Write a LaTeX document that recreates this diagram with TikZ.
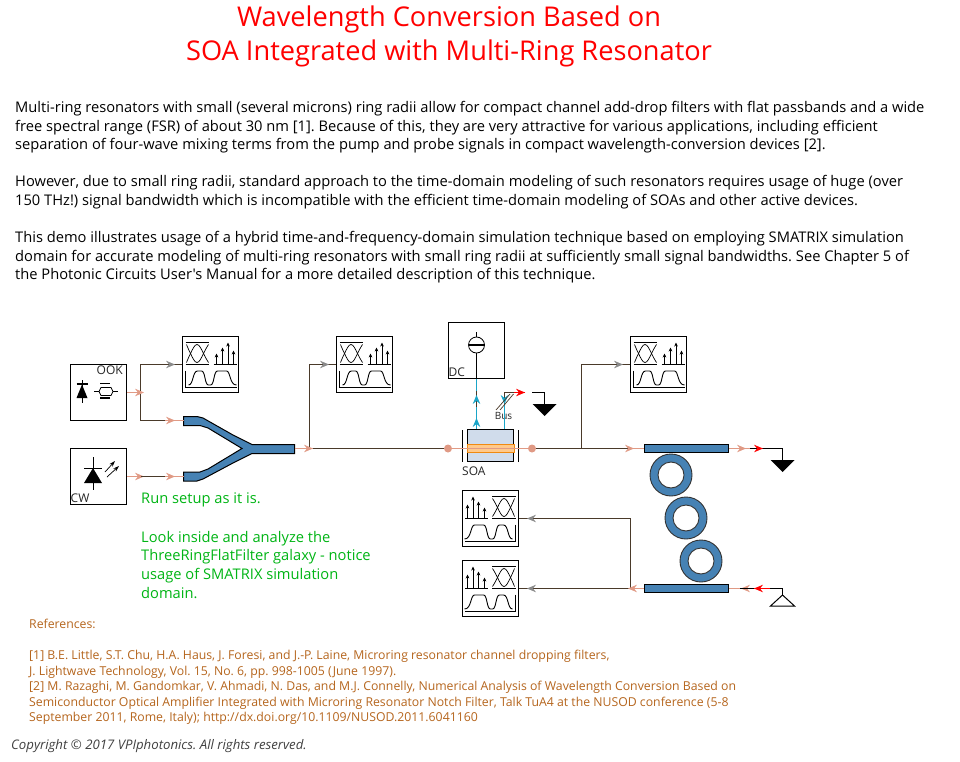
\documentclass[tikz,border=0pt]{standalone}
\usepackage{fontspec}
\setmainfont{Open Sans}[Ligatures=TeXOff]
\usepackage{xcolor}
\definecolor{leadred}{HTML}{FF0000}
\definecolor{salmon}{HTML}{E09A85}
\definecolor{wirebrown}{HTML}{4A3A2A}
\definecolor{tipgrey}{HTML}{8A8A8A}
\definecolor{elcyan}{HTML}{1AA5C8}
\definecolor{steel}{HTML}{4682B4}
\definecolor{soagrey}{HTML}{D0DCEB}
\definecolor{soaband}{HTML}{FFC98A}
\definecolor{soaedge}{HTML}{F08A10}
\definecolor{notegreen}{HTML}{00B414}
\definecolor{refbrown}{HTML}{B5651D}
\usetikzlibrary{arrows.meta}
\tikzset{
  pics/flowtip/.style={code={\fill[#1] (-9,-3.8) -- (0,0) -- (-9,3.8) -- (-6,0) -- cycle;}},
  pics/scopeicon/.style={code={
    % eye
    \draw[line width=0.9pt] (-25,-22) -- (-1.5,-22) (-25,0) -- (-1.5,0);
    \draw[line width=0.7pt] (-24,-20) .. controls (-22,-15) and (-21,-13) .. (-20,-11)
      .. controls (-18,-7) and (-16,-2) .. (-13.5,-2) .. controls (-11,-2) and (-9,-7) .. (-7,-11)
      .. controls (-6,-13) and (-4,-17) .. (-2,-20);
    \draw[line width=0.7pt] (-24,-2) .. controls (-22,-7) and (-21,-9) .. (-20,-11)
      .. controls (-18,-15) and (-16,-20) .. (-13.5,-20) .. controls (-11,-20) and (-9,-15) .. (-7,-11)
      .. controls (-6,-9) and (-4,-5) .. (-2,-2);
    % spectrum
    \draw[line width=0.9pt] (3,0) -- (26,0);
    \draw[line width=0.9pt, -{Stealth[length=4pt,width=3.6pt]}] (6,0) -- (6,-11);
    \draw[line width=0.9pt, -{Stealth[length=4pt,width=3.6pt]}] (12,0) -- (12,-17);
    \draw[line width=0.9pt, -{Stealth[length=4pt,width=3.6pt]}] (17.5,0) -- (17.5,-22);
    \draw[line width=0.9pt, -{Stealth[length=4pt,width=3.6pt]}] (23,0) -- (23,-14);
    % waveform
    \draw[line width=0.9pt] (-25,6) -- (-25,23) -- (26,23);
    \draw[line width=0.9pt] (-22,20.5) .. controls (-17,20.5) and (-18,6.5) .. (-13,6.5) -- (-9,6.5)
      .. controls (-5,6.5) and (-6,20.5) .. (-2,20.5) -- (0,20.5) .. controls (4,20.5) and (3,6.5) .. (7,6.5) -- (16,6.5)
      .. controls (20,6.5) and (19,20.5) .. (26,20.5);
  }},
  pics/groundfull/.style={code={\fill (-12,0) -- (12,0) -- (0,12) -- cycle;}}
}
\frenchspacing
\begin{document}
\begin{tikzpicture}[x=1pt, y=-1pt, line cap=butt,
  instbox/.style={draw, line width=1pt, fill=white, minimum size=56pt, inner sep=0pt},
  guide/.style={font=\fontsize{14.68}{18.6}\selectfont, align=left, anchor=north west, inner sep=0pt},
  tag/.style={font=\fontsize{12}{12}\selectfont, inner sep=0pt, text=black!85},
  bluebar/.style={draw, line width=1pt, fill=steel, minimum width=84pt, minimum height=8pt, inner sep=0pt},
  ringout/.style={circle, draw=black!80, line width=0.9pt, fill=steel, minimum size=42pt, inner sep=0pt},
  ringin/.style={circle, draw=black!80, line width=0.9pt, fill=white, minimum size=26pt, inner sep=0pt},
  lead/.style={draw=salmon, line width=1pt},
  wire/.style={draw=wirebrown, line width=1pt},
  elwire/.style={draw=elcyan, line width=1pt},
  blackwire/.style={draw=black, line width=1pt}]
\useasboundingbox (0,0) rectangle (960,762);

% title and notes
\node[font=\fontsize{27.2}{34}\selectfont, text=leadred, align=center, inner sep=0pt] (title) at (449,36)
  {Wavelength Conversion Based on\\SOA Integrated with Multi-Ring Resonator};
\node[guide] (para1) at (15,101) {Multi-ring resonators with small (several microns) ring radii allow for compact channel add-drop filters with flat passbands and a wide\\
free spectral range (FSR) of about 30 nm [1]. Because of this, they are very attractive for various applications, including efficient\\
separation of four-wave mixing terms from the pump and probe signals in compact wavelength-conversion devices [2].};
\node[guide] (para2) at (15,175) {However, due to small ring radii, standard approach to the time-domain modeling of such resonators requires usage of huge (over\\
150 THz!) signal bandwidth which is incompatible with the efficient time-domain modeling of SOAs and other active devices.};
\node[guide] (para3) at (15,231) {This demo illustrates usage of a hybrid time-and-frequency-domain simulation technique based on employing SMATRIX simulation\\
domain for accurate modeling of multi-ring resonators with small ring radii at sufficiently small signal bandwidths. See Chapter 5 of\\
the Photonic Circuits User's Manual for a more detailed description of this technique.};
\node[guide, text=notegreen] (note1) at (141,493) {Run setup as it is.};
\node[guide, text=notegreen] (note2) at (141,531) {Look inside and analyze the\\ThreeRingFlatFilter galaxy - notice\\usage of SMATRIX simulation\\domain.};
\node[guide, text=refbrown, font=\fontsize{12.27}{15.6}\selectfont] (refhead) at (29,619) {References:};
\node[guide, text=refbrown, font=\fontsize{12.27}{15.6}\selectfont] (reflist) at (29,650) {[1] B.E. Little, S.T. Chu, H.A. Haus, J. Foresi, and J.-P. Laine, Microring resonator channel dropping filters,\\
J. Lightwave Technology, Vol. 15, No. 6, pp. 998-1005 (June 1997).\\{}%
[2] M. Razaghi, M. Gandomkar, V. Ahmadi, N. Das, and M.J. Connelly, Numerical Analysis of Wavelength Conversion Based on\\
Semiconductor Optical Amplifier Integrated with Microring Resonator Notch Filter, Talk TuA4 at the NUSOD conference (5-8\\
September 2011, Rome, Italy); http://dx.doi.org/10.1109/NUSOD.2011.6041160};
\node[guide, text=black!75, font=\fontsize{13.2}{15}\selectfont\itshape] (copy) at (11,739) {Copyright © 2017 VPIphotonics. All rights reserved.};

% instruments
\node[instbox] (ook) at (98.5,392.5) {};
\node[instbox] (cw) at (98.5,476.5) {};
\node[instbox] (dc) at (476.5,350.5) {};
\node[instbox] (scope1) at (210.5,364.5) {};
\node[instbox] (scope2) at (364.5,364.5) {};
\node[instbox] (scope3) at (658.5,364.5) {};
\node[instbox] (scope4) at (490.5,518.5) {};
\node[instbox] (scope5) at (490.5,588.5) {};
\pic at (scope1) {scopeicon};
\pic at (scope2) {scopeicon};
\pic at (scope3) {scopeicon};
\pic[xscale=-1] at (scope4) {scopeicon};
\pic[xscale=-1] at (scope5) {scopeicon};
\node[tag, anchor=west] (ooktag) at (96.5,370.5) {OOK};
\node[tag, anchor=west] (cwtag) at (70.5,498.5) {CW};
\node[tag, anchor=west] (dctag) at (448.5,372) {DC};
\node[tag, anchor=west] (soatag) at (462,471) {SOA};
\node[tag, font=\fontsize{10}{11}\selectfont] (bustag) at (503.5,416) {Bus};

% ook source icon
\draw[line width=0.8pt] (82,380) -- (82,403);
\draw[line width=1.4pt] (76.5,384) -- (87.5,384);
\fill (76.5,398) -- (87.5,398) -- (82,384.5) -- cycle;
\draw[line width=0.7pt] (94,391.5) -- (99,391.5) (113,391.5) -- (118,391.5);
\draw[line width=0.7pt] (99,391.5) -- (101,387.5) -- (111,387.5) -- (113,391.5) -- (111,395.5) -- (101,395.5) -- cycle;
\draw[line width=1.5pt] (100,383.5) -- (110,383.5) (100,398) -- (110,398);
% cw source icon
\draw[line width=0.8pt] (93,457) -- (93,490);
\draw[line width=0.8pt] (84,468) -- (102,468);
\fill (84,483) -- (102,483) -- (93,468) -- cycle;
\draw[line width=0.7pt, -{Stealth[length=6pt,width=4pt]}] (105,472) -- (115,461);
\draw[line width=0.7pt, -{Stealth[length=6pt,width=4pt]}] (107,477) -- (119,466);
% dc source icon
\draw[line width=0.8pt] (476.5,332) -- (476.5,337) (476.5,353) -- (dc.south);
\draw[line width=0.8pt] (476.5,345) circle (8);
\draw[line width=1.6pt] (468.5,345) -- (484.5,345);

% coupler
\draw[line width=1pt, fill=steel] (183.5,416.5) -- (197,416.5) -- (203,418) -- (233,435) -- (252,444.5) -- (294.5,444.5)
  -- (294.5,453.5) -- (252,453.5) -- (233,463) -- (203,479) -- (197,481) -- (183.5,481) -- (183.5,472) -- (200,472)
  -- (208,469) -- (242,448.5) -- (208,428) -- (200,425.5) -- (183.5,425.5) -- cycle;
\coordinate (cplup) at (183.5,420.5);
\coordinate (cpllow) at (183.5,476.5);
\coordinate (cplout) at (294.5,448.5);

% soa
\node[draw, line width=1pt, fill=soagrey, minimum width=46pt, minimum height=32pt, inner sep=0pt] (soa) at (490.5,445.5) {};
\draw[draw=soaedge, line width=1pt, fill=soaband] (soa.west |- 0,444.5) rectangle (soa.east |- 0,452.5);
\draw[line width=1pt] (462.5,430) -- (462.5,462) (518.5,430) -- (518.5,462);
\node[circle, fill=salmon, minimum size=8pt, inner sep=0pt] (spotin) at (448,448.5) {};
\node[circle, fill=salmon, minimum size=8pt, inner sep=0pt] (spotout) at (532,448.5) {};

% ring filter
\node[bluebar] (bartop) at (686.5,448.5) {};
\node[bluebar] (barlow) at (686.5,588.5) {};
\node[ringout] (ring1) at (671,475) {};
\node[ringin] (hole1) at (671,475) {};
\node[ringout] (ring2) at (686,518) {};
\node[ringin] (hole2) at (686,518) {};
\node[ringout] (ring3) at (701,561) {};
\node[ringin] (hole3) at (701,561) {};

% terminations
\coordinate (gnd1) at (544.5,404);
\coordinate (gnd2) at (782.5,460);
\coordinate (lasetop) at (782.5,595);
\pic at (gnd1) {groundfull};
\pic at (gnd2) {groundfull};
\draw[line width=1pt, fill=white] (770.5,606) -- (794.5,606) -- (lasetop) -- cycle;

% source side
\coordinate (fork1) at (140.5,392.5);
\coordinate (fork1up) at (140.5,364.5);
\coordinate (fork1low) at (140.5,420.5);
\coordinate (cwmid) at (165,476.5);
\coordinate (uplow) at (165,420.5);
\draw[wire] (fork1) -- (fork1up) -- (scope1.west);
\pic at (175,364.5) {flowtip=tipgrey};
\draw[wire] (fork1) -- (fork1low) -- (uplow);
\draw[lead] (ook.east) -- (fork1);
\pic at (144,392.5) {flowtip=salmon};
\draw[lead] (uplow) -- (cplup);
\pic at (175,420.5) {flowtip=salmon};
\draw[lead] (cw.east) -- (140.5,476.5);
\pic at (144,476.5) {flowtip=salmon};
\draw[wire] (140.5,476.5) -- (cwmid);
\draw[lead] (cwmid) -- (cpllow);
\pic at (175,476.5) {flowtip=salmon};

% main line
\coordinate (fork2) at (309.5,448.5);
\coordinate (fork2up) at (309.5,364.5);
\coordinate (fork3) at (581.5,448.5);
\coordinate (fork3up) at (581.5,364.5);
\draw[wire] (fork2) -- (fork2up) -- (scope2.west);
\pic at (329,364.5) {flowtip=tipgrey};
\draw[lead] (cplout) -- (313,448.5);
\pic at (313,448.5) {flowtip=salmon};
\draw[wire] (313,448.5) -- (spotin);
\draw[lead] (spotin) -- (spotout);
\draw[wire] (spotout) -- (630,448.5);
\draw[wire] (fork3) -- (fork3up) -- (scope3.west);
\pic at (623,364.5) {flowtip=tipgrey};
\draw[lead] (630,448.5) -- (bartop.west);
\pic at (634,448.5) {flowtip=salmon};

% soa electrical side
\coordinate (busturn) at (504.5,392.5);
\coordinate (dropturn) at (544.5,392.5);
\draw[elwire] (dc.south) -- (476.5,391);
\draw[wire] (476.5,391) -- (476.5,407);
\draw[elwire] (476.5,407) -- (476.5,429);
\pic[rotate=90] at (476.5,395) {flowtip=elcyan};
\pic[rotate=90] at (476.5,418) {flowtip=elcyan};
\draw[elwire] (504.5,429) -- (504.5,405);
\draw[wire] (504.5,405) -- (busturn) -- (514,392.5);
\pic[rotate=-90] at (504.5,404) {flowtip=elcyan};
\draw[leadred, line width=1pt] (514,392.5) -- (525,392.5);
\pic at (525,392.5) {flowtip=leadred};
\draw[blackwire] (532,392.5) -- (dropturn) -- (gnd1);
\draw[wirebrown, line width=0.7pt] (496,410) -- (510,394) (500,410) -- (513.5,394);

% filter output
\coordinate (outturn) at (782.5,448.5);
\draw[lead] (bartop.east) -- (750,448.5);
\pic at (746,448.5) {flowtip=salmon};
\draw[blackwire] (750,448.5) -- (outturn) -- (gnd2);
\pic at (763,448.5) {flowtip=leadred};

% filter add and drop
\coordinate (noiseturn) at (782.5,588.5);
\draw[blackwire] (lasetop) -- (noiseturn) -- (770,588.5);
\draw[leadred, line width=1pt] (770,588.5) -- (754,588.5);
\pic[rotate=180] at (754,588.5) {flowtip=leadred};
\draw[lead] (740,588.5) -- (barlow.east);
\pic[rotate=180] at (741,588.5) {flowtip=salmon};
\draw[blackwire] (754,588.5) -- (740,588.5);
\coordinate (fork4) at (630.5,588.5);
\coordinate (fork4up) at (630.5,518.5);
\draw[wire] (fork4) -- (scope5.east);
\draw[wire] (fork4) -- (fork4up) -- (scope4.east);
\draw[lead] (barlow.west) -- (fork4);
\pic[rotate=180] at (628,588.5) {flowtip=salmon};
\pic[rotate=180] at (527,518.5) {flowtip=tipgrey};
\pic[rotate=180] at (527,588.5) {flowtip=tipgrey};
\end{tikzpicture}
\end{document}
